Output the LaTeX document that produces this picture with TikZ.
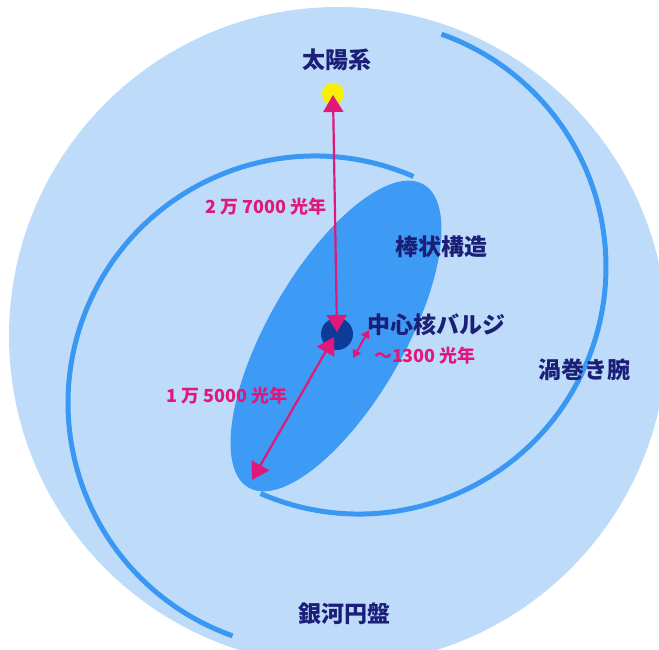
\documentclass[tikz,border=0pt]{standalone}
\usepackage{fontspec}
\newfontfamily\jp{Noto Sans CJK JP}
\usetikzlibrary{arrows.meta}
\definecolor{discblue}{HTML}{BEDCFA}
\definecolor{barblue}{HTML}{3D9BF5}
\definecolor{armblue}{HTML}{3A98F2}
\definecolor{coreblue}{HTML}{0C3C98}
\definecolor{navy}{HTML}{1C1F78}
\definecolor{magenta}{HTML}{E0187A}
\definecolor{sunyellow}{HTML}{F8F000}
\tikzset{
  arm/.style={draw=armblue, line width=5pt},
  lab/.style={text=navy, inner sep=0pt, font=\jp\bfseries\fontsize{23}{27}\selectfont},
  dist/.style={text=magenta, inner sep=0pt, font=\jp\bfseries\fontsize{18}{21}\selectfont},
  span/.style={draw=magenta, line width=2.2pt,
    {Triangle[length=17pt,width=20pt]}-{Triangle[length=17pt,width=20pt]}},
  smallspan/.style={draw=magenta, line width=2pt,
    {Triangle[length=8pt,width=9pt]}-{Triangle[length=8pt,width=9pt]}}
}
\begin{document}
\begin{tikzpicture}[x=1pt,y=-1pt]
\useasboundingbox (0,0) rectangle (659,649);
\clip (0,0) rectangle (659,649);

% galactic disc
\fill[discblue] (338,336) circle (329);

% two spiral arms: circular arcs, point-symmetric about the centre
\coordinate (arma) at (315,403);
\coordinate (armb) at (359,267);
\draw[arm] ([shift={(-66.5:247)}]arma) arc[start angle=-66.5, end angle=-250.5, radius=247];
\draw[arm] ([shift={(113.5:247)}]armb) arc[start angle=113.5, end angle=-70.5, radius=247];

% bar
\fill[barblue, rotate around={60:(336,336)}] (336,336) ellipse [x radius=175, y radius=68];

% central bulge
\node[circle, fill=coreblue, minimum size=32pt, inner sep=0pt] (bulge) at (337,334) {};
\coordinate (core) at (337,332);
\coordinate (coreb) at (334,337);

% sun
\node[circle, fill=sunyellow, minimum size=22pt, inner sep=0pt] (sun) at (333,94) {};
\coordinate (sunc) at (333,95);

% bar end
\coordinate (barend) at (252,480);

% distance arrows
\draw[span] (sunc) -- (core);
\draw[span] (coreb) -- (barend);
\coordinate (s1) at (353,358);
\coordinate (s2) at (369,330);
\draw[smallspan] (s1) -- (s2);

% labels
\node[lab] (lsun) at (337,60) {太陽系};
\node[lab] (lbar) at (441,247) {棒状構造};
\node[lab] (lbulge) at (436,325) {中心核バルジ};
\node[lab] (larm) at (584,370) {渦巻き腕};
\node[lab] (ldisc) at (344,614) {銀河円盤};
\node[dist] (d1) at (266,207) {2 万 7000 光年};
\node[dist] (d2) at (227,396) {1 万 5000 光年};
\node[dist] (d3) at (425,356) {〜1300 光年};
\end{tikzpicture}
\end{document}
